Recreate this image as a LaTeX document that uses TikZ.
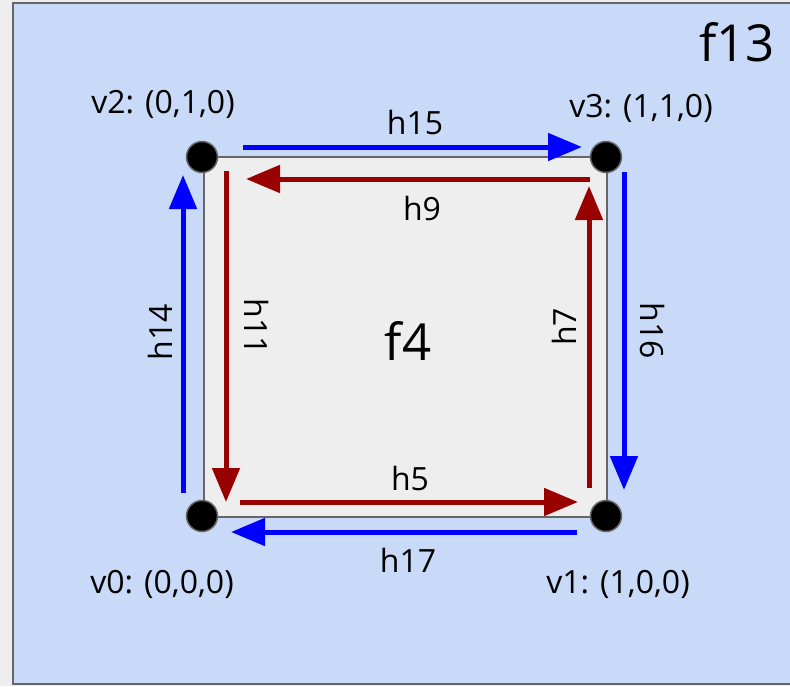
\documentclass[tikz,border=0pt]{standalone}
\usepackage{fontspec}
\setmainfont{Open Sans}
\usetikzlibrary{arrows.meta}
\definecolor{bgout}{HTML}{EEEEEE}
\definecolor{facefill}{HTML}{C9DAF8}
\definecolor{innerfill}{HTML}{EEEEEE}
\definecolor{edgegrey}{HTML}{666666}
\definecolor{hblue}{HTML}{0000FF}
\definecolor{hred}{HTML}{990000}
\tikzset{
  vert/.style={circle,fill=black,draw=edgegrey,line width=1.5pt,minimum size=31pt,inner sep=0pt},
  lbl/.style={font=\fontsize{32}{36}\selectfont,inner sep=0pt},
  big/.style={font=\fontsize{51}{56}\selectfont,inner sep=0pt},
  hb/.style={draw=hblue,line width=5pt,-{Triangle[length=34pt,width=27pt]}},
  hr/.style={draw=hred,line width=5pt,-{Triangle[length=34pt,width=27pt]}},
}
\begin{document}
\begin{tikzpicture}[x=1pt,y=-1pt]
\useasboundingbox (0,0) rectangle (790,686);
\fill[bgout] (0,0) rectangle (790,686);
\draw[fill=facefill,draw=edgegrey,line width=2pt] (13,3) rectangle (800,684);
\draw[fill=innerfill,draw=edgegrey,line width=2pt] (204,157) rectangle (607,517);
\node[vert] (v2) at (202,157) {};
\node[vert] (v3) at (606,157) {};
\node[vert] (v0) at (202,516) {};
\node[vert] (v1) at (606,516) {};
\node[big] (f13) at (737,42) {f13};
\node[big] (f4) at (408,341) {f4};
\node[lbl] (lv2) at (163,104) {v2: (0,1,0)};
\node[lbl] (lv3) at (641,108) {v3: (1,1,0)};
\node[lbl] (lv0) at (162,584) {v0: (0,0,0)};
\node[lbl] (lv1) at (618,584) {v1: (1,0,0)};
% half-edge endpoints
\coordinate (a15) at (243,147); \coordinate (b15) at (582,147);
\coordinate (a9) at (590,179);  \coordinate (b9) at (246,179);
\coordinate (a14) at (183,493); \coordinate (b14) at (183,175);
\coordinate (a11) at (226,171); \coordinate (b11) at (226,502);
\coordinate (a7) at (589,488);  \coordinate (b7) at (589,186);
\coordinate (a16) at (624,172); \coordinate (b16) at (624,490);
\coordinate (a5) at (240,502);  \coordinate (b5) at (578,502);
\coordinate (a17) at (577,532); \coordinate (b17) at (231,532);
\draw[hb] (a15) -- (b15);
\draw[hr] (a9) -- (b9);
\draw[hb] (a14) -- (b14);
\draw[hr] (a11) -- (b11);
\draw[hr] (a7) -- (b7);
\draw[hb] (a16) -- (b16);
\draw[hr] (a5) -- (b5);
\draw[hb] (a17) -- (b17);
\node[lbl] (l15) at (415,122) {h15};
\node[lbl] (l9) at (422,208) {h9};
\node[lbl,rotate=90] (l14) at (160,332) {h14};
\node[lbl,rotate=-90] (l11) at (257,327) {h11};
\node[lbl,rotate=90] (l7) at (564,327) {h7};
\node[lbl,rotate=-90] (l16) at (652,331) {h16};
\node[lbl] (l5) at (410,478) {h5};
\node[lbl] (l17) at (408,560) {h17};
\end{tikzpicture}
\end{document}
